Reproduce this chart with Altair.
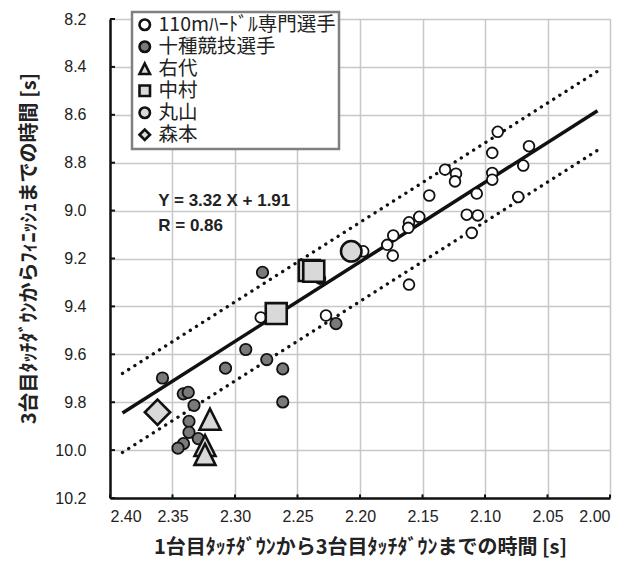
import altair as alt
import pandas as pd

# 110m hurdle specialists
hurdle_x = [2.0898, 2.0648, 2.0942, 2.0694, 2.1320, 2.1232, 2.1240, 2.0942, 2.0942,
            2.1446, 2.1066, 2.0734, 2.1146, 2.1058, 2.1106, 2.1526, 2.1608, 2.1614,
            2.1734, 2.1782, 2.1738, 2.1608, 2.1974, 2.2794, 2.2272, 2.2320]
hurdle_y = [8.671, 8.731, 8.759, 8.812, 8.829, 8.846, 8.878, 8.843, 8.871,
            8.937, 8.929, 8.943, 9.017, 9.020, 9.093, 9.026, 9.049, 9.072,
            9.104, 9.143, 9.188, 9.309, 9.170, 9.446, 9.438, 9.284]

# decathletes
deca_x = [2.2780, 2.2192, 2.2914, 2.2746, 2.2618, 2.3076, 2.3580, 2.3414, 2.3374,
          2.3328, 2.2618, 2.3368, 2.3368, 2.3294, 2.3412, 2.3456]
deca_y = [9.258, 9.472, 9.580, 9.622, 9.661, 9.658, 9.699, 9.765, 9.759,
          9.813, 9.799, 9.880, 9.926, 9.952, 9.973, 9.992]

# individual athletes
uashiro_x = [2.320, 2.324, 2.324]
uashiro_y = [9.871, 9.981, 10.018]
nakamura_x = [2.2406, 2.2370, 2.2670]
nakamura_y = [9.250, 9.253, 9.430]
maruyama_x = [2.207]
maruyama_y = [9.170]
morimoto_x = [2.362]
morimoto_y = [9.842]

groups = ["110mﾊｰﾄﾞﾙ専門選手", "十種競技選手", "右代", "中村", "丸山", "森本"]
fills = ["#ffffff", "#7a7a7a", "#d9d9d9", "#d9d9d9", "#d9d9d9", "#d9d9d9"]
outline = ["#111111"] * len(groups)
tri = "M0,-1L1,1L-1,1Z"
shapes = ["circle", "circle", tri, "square", "circle", "diamond"]
sizes = [115, 130, 440, 440, 420, 640]
strokes = [1.8, 1.8, 2.6, 2.6, 2.6, 2.6]

# regression: Y = 3.32 X + 1.91, with dotted band
slope, intercept = 3.32, 1.91
band = 0.165
fit_x = [2.39, 2.01]

x_ticks = [2.40, 2.35, 2.30, 2.25, 2.20, 2.15, 2.10, 2.05, 2.00]
y_ticks = [8.2, 8.4, 8.6, 8.8, 9.0, 9.2, 9.4, 9.6, 9.8, 10.0, 10.2]

series = [(hurdle_x, hurdle_y), (deca_x, deca_y), (uashiro_x, uashiro_y),
          (nakamura_x, nakamura_y), (maruyama_x, maruyama_y), (morimoto_x, morimoto_y)]

fit_rows = []
for kind, off in [("fit", 0.0), ("upper", -band), ("lower", band)]:
    for xv in fit_x:
        fit_rows.append({"kind": kind, "x": xv, "y": slope * xv + intercept + off})
fit = pd.DataFrame(fit_rows)

xs = alt.Scale(domain=[2.0, 2.4], reverse=True, nice=False, zero=False)
ys = alt.Scale(domain=[8.2, 10.2], reverse=True, nice=False, zero=False)

x_axis = alt.Axis(values=x_ticks, format=".2f", title="1台目ﾀｯﾁﾀﾞｳﾝから3台目ﾀｯﾁﾀﾞｳﾝまでの時間 [s]",
                  ticks=False, labelPadding=10, titlePadding=13)
y_axis = alt.Axis(values=y_ticks, format=".1f", title="3台目ﾀｯﾁﾀﾞｳﾝからﾌｨﾆｯｼｭまでの時間 [s]",
                  ticks=False, labelPadding=24, titlePadding=15, titleY=229)

base_x = alt.X("x:Q", scale=xs, axis=x_axis)
base_y = alt.Y("y:Q", scale=ys, axis=y_axis)

solid = alt.Chart(fit[fit.kind == "fit"]).mark_line(
    color="#111111", strokeWidth=3.5
).encode(x=base_x, y=base_y)

dotted = alt.Chart(fit[fit.kind != "fit"]).mark_line(
    color="#111111", strokeWidth=3.3, strokeDash=[0.1, 7.2], strokeCap="round"
).encode(x=base_x, y=base_y, detail="kind:N")

# inward tick marks on both axes
ytick_df = pd.DataFrame({"y": y_ticks, "x": [2.40] * len(y_ticks), "x2": [2.396] * len(y_ticks)})
xtick_df = pd.DataFrame({"x": x_ticks, "y": [10.2] * len(x_ticks), "y2": [10.185] * len(x_ticks)})
yticks = alt.Chart(ytick_df).mark_rule(color="#111111", strokeWidth=2).encode(
    x=alt.X("x:Q", scale=xs), x2="x2:Q", y=alt.Y("y:Q", scale=ys))
xticks = alt.Chart(xtick_df).mark_rule(color="#111111", strokeWidth=2).encode(
    x=alt.X("x:Q", scale=xs), y=alt.Y("y:Q", scale=ys), y2="y2:Q")

legend = alt.Legend(
    title=None, orient="none", legendX=22, legendY=-7,
    fillColor="white", strokeColor="#808080",
    padding=3, rowPadding=0,
    labelFont="Noto Sans CJK JP", labelFontSize=19.5, labelColor="#222222",
    symbolSize=110, symbolStrokeWidth=2.6, labelOffset=4, labelLimit=300,
)
fill_enc = alt.Fill("group:N", scale=alt.Scale(domain=groups, range=fills), legend=legend)
shape_enc = alt.Shape("group:N", scale=alt.Scale(domain=groups, range=shapes), legend=legend)
stroke_enc = alt.Stroke("group:N", scale=alt.Scale(domain=groups, range=outline), legend=legend)

point_layers = []
for g, (px, py), sz, sw in zip(groups, series, sizes, strokes):
    df = pd.DataFrame({"x": px, "y": py, "group": [g] * len(px)})
    point_layers.append(
        alt.Chart(df).mark_point(
            filled=True, strokeWidth=sw, opacity=1, size=sz
        ).encode(x=base_x, y=base_y, fill=fill_enc, shape=shape_enc, stroke=stroke_enc)
    )

eq_df = pd.DataFrame({"x": [2.3614, 2.3614], "y": [8.982, 9.086],
                      "t": ["Y = 3.32 X + 1.91", "R = 0.86"]})
eq = alt.Chart(eq_df).mark_text(
    align="left", baseline="alphabetic", font="Liberation Sans",
    fontSize=17, fontWeight="bold", color="#222222"
).encode(x=alt.X("x:Q", scale=xs), y=alt.Y("y:Q", scale=ys), text="t:N")

chart = alt.layer(solid, dotted, *point_layers, eq, yticks, xticks).properties(
    width=500, height=479,
    autosize=alt.AutoSizeParams(type="none"),
    padding={"left": 110, "top": 19, "right": 32, "bottom": 80},
).configure_view(
    strokeWidth=0
).configure_axis(
    grid=True, gridColor="#c8c8c8", gridWidth=1.5,
    domainColor="#111111", domainWidth=2.5,
    labelFont="Liberation Sans", labelFontSize=16, labelColor="#222222",
    titleFont="Noto Sans CJK JP", titleFontSize=20, titleFontWeight="bold", titleColor="#222222",
).configure_legend(
    strokeWidth=2.5,
)

chart.save("out.html", embed_options={"renderer": "svg", "actions": False})
